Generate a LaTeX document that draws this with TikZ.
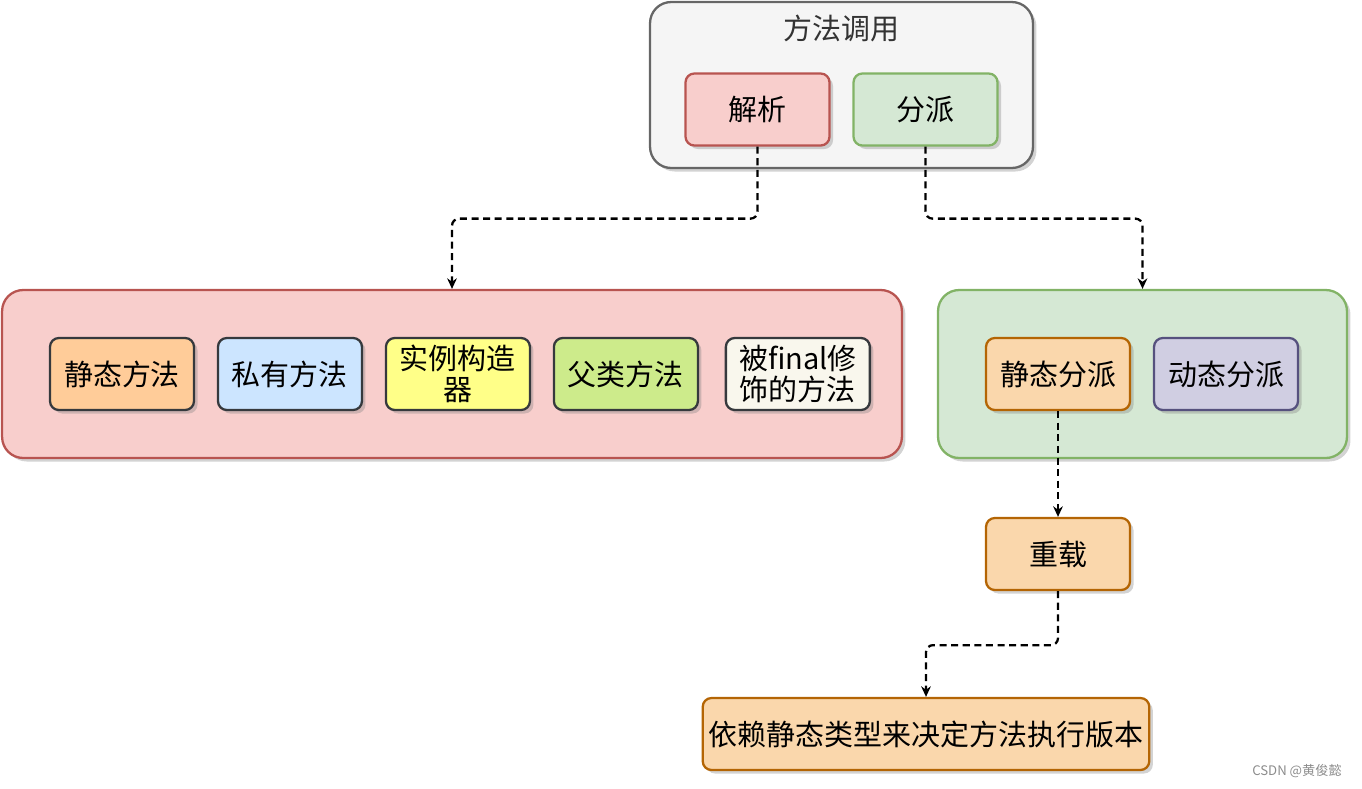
\documentclass[tikz,border=0pt]{standalone}
\usepackage{fontspec}
\setmainfont{Noto Sans CJK SC}
\usetikzlibrary{shapes, arrows, arrows.meta, shadows}
\definecolor{redfill}{HTML}{F8CECC}
\definecolor{redline}{HTML}{B85450}
\definecolor{greenfill}{HTML}{D5E8D4}
\definecolor{greenline}{HTML}{82B366}
\definecolor{grayfill}{HTML}{F5F5F5}
\definecolor{grayline}{HTML}{666666}
\definecolor{darkline}{HTML}{36393D}
\definecolor{orangefill}{HTML}{FAD7AC}
\definecolor{orangeline}{HTML}{B46504}
\definecolor{purplefill}{HTML}{D0CEE2}
\definecolor{purpleline}{HTML}{56517E}
\definecolor{peachfill}{HTML}{FFCC99}
\definecolor{bluefill}{HTML}{CCE5FF}
\definecolor{yellowfill}{HTML}{FFFF88}
\definecolor{limefill}{HTML}{CDEB8B}
\definecolor{creamfill}{HTML}{F9F7ED}
\tikzset{boxshadow/.style={drop shadow={opacity=0.35, shadow xshift=2pt, shadow yshift=-2pt}}}
\tikzstyle{group} = [rectangle, rounded corners=12pt, line width=1.3pt, boxshadow]
\tikzstyle{item} = [rectangle, rounded corners=5pt, minimum width=2.88cm, minimum height=1.44cm, text centered, align=center, line width=1.3pt, boxshadow, font=\fontsize{16.5}{17.5}\selectfont]
\tikzstyle{kind} = [item, draw=darkline]
\tikzstyle{edge} = [line width=1.3pt, ->, >={Stealth[length=6pt, width=5.5pt]}, dash pattern=on 4pt off 2.6pt, rounded corners=4pt]

\begin{document}
\begin{tikzpicture}[x=0.02cm, y=-0.02cm, node distance=3.36cm]
\useasboundingbox (0,0) rectangle (1362,788);

% call
\node (call) [group, draw=grayline, fill=grayfill, minimum width=7.66cm, minimum height=3.32cm] at (841.5,85) {};
\node (calltitle) [text=black!80, font=\fontsize{16.5}{17.5}\selectfont] at (841.5,28) {方法调用};
\node (jiexi) [item, draw=redline, fill=redfill] at (757.5,109.5) {解析};
\node (fenpai) [item, draw=greenline, fill=greenfill] at (925.5,109.5) {分派};

% resolve group
\node (resolve) [group, draw=redline, fill=redfill, minimum width=18cm, minimum height=3.36cm] at (452,374) {};
\node (k1) [kind, fill=peachfill] at (122,374) {静态方法};
\node (k2) [kind, fill=bluefill, right of=k1] {私有方法};
\node (k3) [kind, fill=yellowfill, right of=k2] {实例构造\\器};
\node (k4) [kind, fill=limefill, right of=k3] {父类方法};
\node (k5) [kind, fill=creamfill, right of=k4, xshift=0.08cm] {被final修\\饰的方法};

% dispatch group
\node (dispatch) [group, draw=greenline, fill=greenfill, minimum width=8.18cm, minimum height=3.36cm] at (1142.5,374) {};
\node (static) [item, draw=orangeline, fill=orangefill] at (1058,374) {静态分派};
\node (dynamic) [item, draw=purpleline, fill=purplefill] at (1226,374) {动态分派};

\node (overload) [item, draw=orangeline, fill=orangefill] at (1058,554) {重载};
\node (result) [item, draw=orangeline, fill=orangefill, minimum width=8.88cm] at (926,734) {依赖静态类型来决定方法执行版本};

\node (mark) [text=black!45, font=\fontsize{7.5}{8}\selectfont] at (1297,771) {CSDN @黄俊懿};

\draw [edge] (jiexi.south) -- ++(0,72) -| (resolve.north);
\draw [edge] (fenpai.south) -- ++(0,72) -| (dispatch.north);
\draw [edge] (static) -- (overload);
\draw [edge] (overload.south) -- ++(0,54) -| (result.north);

\end{tikzpicture}
\end{document}
